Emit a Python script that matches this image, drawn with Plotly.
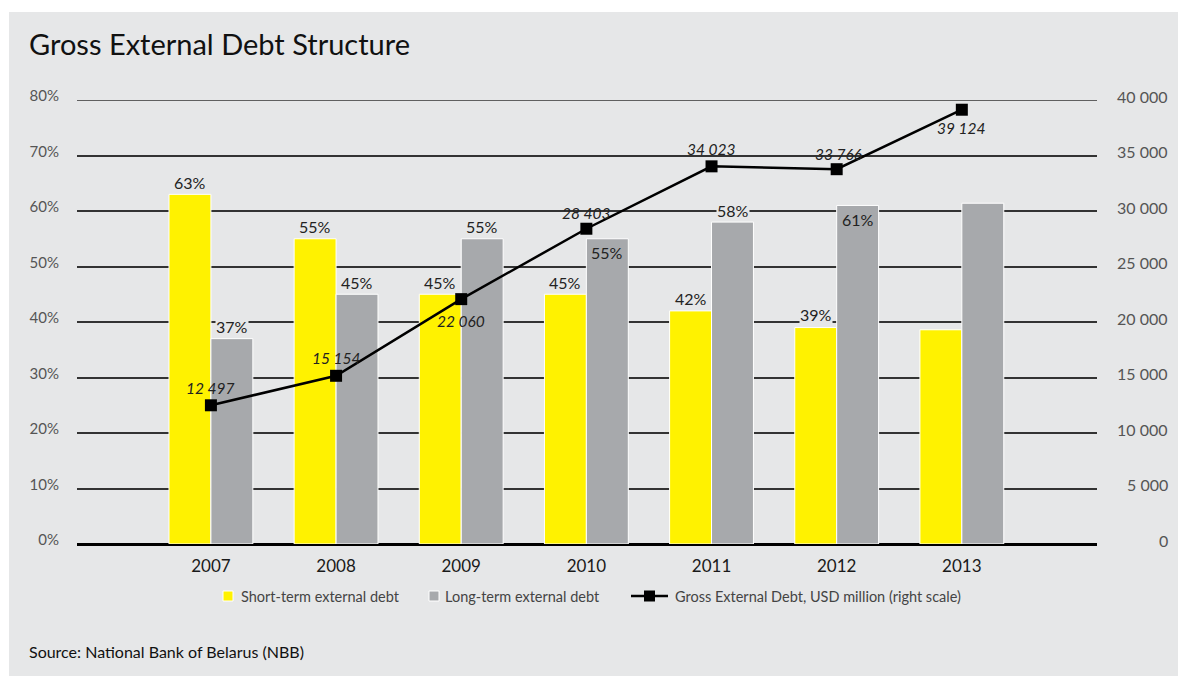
import plotly.graph_objects as go

# --- data ---
years = ["2007", "2008", "2009", "2010", "2011", "2012", "2013"]
short_term_pct = [63, 55, 45, 45, 42, 39, 38.6]
long_term_pct = [37, 45, 55, 55, 58, 61, 61.4]
gross_debt = [12497, 15154, 22060, 28403, 34023, 33766, 39124]

left_ticks = [0, 10, 20, 30, 40, 50, 60, 70, 80]
left_tick_text = ["0%", "10%", "20%", "30%", "40%", "50%", "60%", "70%", "80%"]
right_ticks = [0, 5000, 10000, 15000, 20000, 25000, 30000, 35000, 40000]
right_tick_text = ["0", "5 000", "10 000", "15 000", "20 000", "25 000",
                   "30 000", "35 000", "40 000"]

# value labels shown on the chart and their pixel offsets from the mark
short_labels = ["63%", "55%", "45%", "45%", "42%", "39%", None]
short_label_dy = [12, 12, 12, 12, 12, 13, 0]
long_labels = ["37%", "45%", "55%", "55%", "58%", "61%", None]
long_label_dy = [12, 12, 12, -14, 12, -14, 0]
debt_labels = ["12 497", "15 154", "22 060", "28 403", "34 023", "33 766", "39 124"]
debt_label_dy = [17, 18, -22, 16, 17, 15, -18]
debt_label_dx = [0, 0, 0, 0, 0, 2, 0]

legend_names = ["Short-term external debt", "Long-term external debt",
                "Gross External Debt, USD million (right scale)"]

BG = "#e6e7e8"
YELLOW = "#fff200"
GREY = "#a7a9ac"
GRID = "#333333"
FONT = "Lato, 'Open Sans', sans-serif"

W, H = 1178, 676
ML, MR, MT, MB = 77, 81, 100, 132
PW, PH = W - ML - MR, H - MT - MB


def px_x(px):
    return (px - ML) / PW


def px_y(py):
    return (H - MB - py) / PH


fig = go.Figure()

fig.add_trace(go.Bar(
    x=years, y=short_term_pct, name=legend_names[0],
    marker=dict(color=YELLOW, line=dict(color="white", width=1)),
))
fig.add_trace(go.Bar(
    x=years, y=long_term_pct, name=legend_names[1],
    marker=dict(color=GREY, line=dict(color="white", width=1)),
))
fig.add_trace(go.Scatter(
    x=years, y=gross_debt, yaxis="y2", mode="lines+markers",
    name=legend_names[2],
    line=dict(color="black", width=2.5),
    marker=dict(symbol="square", size=12, color="black"),
))

annotations = []
half_bar_px = 21
label_font = dict(family=FONT, size=16, color="#222")
for i in range(len(years)):
    if short_labels[i]:
        annotations.append(dict(
            x=i, y=short_term_pct[i], xref="x", yref="y",
            text=short_labels[i], showarrow=False,
            xshift=-half_bar_px, yshift=short_label_dy[i], font=label_font,
            bgcolor=BG if short_label_dy[i] > 0 else "rgba(0,0,0,0)", borderpad=0,
        ))
    if long_labels[i]:
        annotations.append(dict(
            x=i, y=long_term_pct[i], xref="x", yref="y",
            text=long_labels[i], showarrow=False,
            xshift=half_bar_px, yshift=long_label_dy[i], font=label_font,
            bgcolor=BG if long_label_dy[i] > 0 else "rgba(0,0,0,0)", borderpad=0,
        ))
    annotations.append(dict(
        x=i, y=gross_debt[i], xref="x", yref="y2",
        text="<i>" + debt_labels[i] + "</i>", showarrow=False,
        xshift=debt_label_dx[i], yshift=debt_label_dy[i],
        font=dict(family=FONT, size=15.5, color="#222"),
    ))

# right-hand scale labels, right-aligned against the page edge
for v, t in zip(right_ticks, right_tick_text):
    annotations.append(dict(
        x=px_x(1170), y=v, xref="paper", yref="y2", text=t, showarrow=False,
        xanchor="right", yanchor="middle", yshift=4,
        font=dict(family=FONT, size=16, color="#555"),
    ))

annotations.append(dict(
    x=px_x(27), y=px_y(44), xref="paper", yref="paper",
    xanchor="left", yanchor="middle",
    text="Gross External Debt Structure", showarrow=False,
    font=dict(family=FONT, size=29, color="#111"),
))
annotations.append(dict(
    x=px_x(27), y=px_y(651), xref="paper", yref="paper",
    xanchor="left", yanchor="middle",
    text="Source: National Bank of Belarus (NBB)", showarrow=False,
    font=dict(family=FONT, size=16, color="#111"),
))

# page background panel
shapes = [dict(
    type="rect", xref="paper", yref="paper", layer="below",
    x0=px_x(9), x1=px_x(W + 5), y0=px_y(H + 5), y1=px_y(12),
    fillcolor=BG, line=dict(width=0),
)]
# top gridline sits on the edge of the axis range, so draw it explicitly
shapes.append(dict(
    type="line", xref="paper", yref="y", layer="below",
    x0=0, x1=1, y0=left_ticks[-1], y1=left_ticks[-1],
    line=dict(color=GRID, width=1.5),
))

# legend, laid out in a single row under the axis
leg_y = 596
leg_font = dict(family=FONT, size=14.5, color="#444")
for color, x0, tx, name in [(YELLOW, 223, 239, legend_names[0]),
                            (GREY, 429, 443, legend_names[1])]:
    shapes.append(dict(
        type="rect", xref="paper", yref="paper",
        x0=px_x(x0), x1=px_x(x0 + 10), y0=px_y(leg_y + 5), y1=px_y(leg_y - 5),
        fillcolor=color, line=dict(color="white", width=1),
    ))
    annotations.append(dict(
        x=px_x(tx), y=px_y(leg_y), xref="paper", yref="paper",
        xanchor="left", yanchor="middle", text=name, showarrow=False, font=leg_font,
    ))
shapes.append(dict(
    type="line", xref="paper", yref="paper",
    x0=px_x(631), x1=px_x(668), y0=px_y(leg_y), y1=px_y(leg_y),
    line=dict(color="black", width=2.5),
))
shapes.append(dict(
    type="rect", xref="paper", yref="paper",
    x0=px_x(644), x1=px_x(655), y0=px_y(leg_y + 5.5), y1=px_y(leg_y - 5.5),
    fillcolor="black", line=dict(width=0),
))
annotations.append(dict(
    x=px_x(673), y=px_y(leg_y), xref="paper", yref="paper",
    xanchor="left", yanchor="middle", text=legend_names[2], showarrow=False,
    font=leg_font,
))

fig.update_layout(
    width=W, height=H,
    margin=dict(l=ML, r=MR, t=MT, b=MB),
    paper_bgcolor="white",
    plot_bgcolor="rgba(0,0,0,0)",
    barmode="group", bargap=0.33, bargroupgap=0,
    font=dict(family=FONT),
    showlegend=False,
    xaxis=dict(
        type="category", range=[-1.07, 7.08], showgrid=False,
        showline=False, ticks="", ticklabelstandoff=10,
        tickfont=dict(family=FONT, size=17, color="#1a1a1a"),
    ),
    yaxis=dict(
        range=[0, 80], tickvals=left_ticks, ticktext=left_tick_text,
        showgrid=True, gridcolor=GRID, gridwidth=1.5,
        zeroline=True, zerolinecolor="black", zerolinewidth=2.5,
        ticks="", ticklabelstandoff=17, ticklabelshift=-4,
        tickfont=dict(family=FONT, size=15, color="#555"),
    ),
    yaxis2=dict(
        range=[0, 40000], overlaying="y", side="right",
        showgrid=False, zeroline=False, showticklabels=False,
    ),
    shapes=shapes,
    annotations=annotations,
)

fig.write_html("out.html")
